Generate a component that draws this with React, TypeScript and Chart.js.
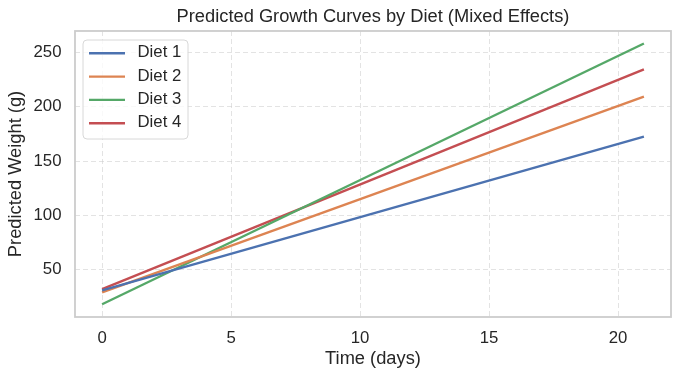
import React, { useEffect, useRef } from "react";
import { Chart, registerables } from "chart.js";

Chart.register(...registerables);

const dietLabels = ["Diet 1", "Diet 2", "Diet 3", "Diet 4"];
const timePoints = [0, 21];
const diet1 = [30.5, 172.5];
const diet2 = [28.7, 209.5];
const diet3 = [17.8, 258.5];
const diet4 = [31.8, 234.5];
const xTicks = [0, 5, 10, 15, 20];
const yTicks = [50, 100, 150, 200, 250];

const colors = ["#4C72B0", "#DD8452", "#55A868", "#C44E52"];
const FONT = "'Liberation Sans', Arial, sans-serif";
const TEXT = "#262626";
const SMALL = 16.8;
const BIG = 18.3;

const overlayPlugin = {
  id: "overlay",
  afterDraw(chart: any) {
    const { ctx, chartArea } = chart;
    const { left, right, top, bottom } = chartArea;
    ctx.save();
    // frame
    ctx.strokeStyle = "#cccccc";
    ctx.lineWidth = 1.8;
    ctx.strokeRect(left, top, right - left, bottom - top);
    // title
    ctx.fillStyle = TEXT;
    ctx.font = `${BIG}px ${FONT}`;
    ctx.textAlign = "center";
    ctx.textBaseline = "alphabetic";
    ctx.fillText("Predicted Growth Curves by Diet (Mixed Effects)", (left + right) / 2, 22);
    // legend
    const bx = left + 8;
    const by = top + 9;
    const bw = 105;
    const bh = 99;
    ctx.beginPath();
    ctx.roundRect(bx, by, bw, bh, 4);
    ctx.fillStyle = "rgba(255,255,255,0.8)";
    ctx.fill();
    ctx.strokeStyle = "#d8d8d8";
    ctx.lineWidth = 1;
    ctx.stroke();
    ctx.font = `${SMALL}px ${FONT}`;
    ctx.textAlign = "left";
    ctx.textBaseline = "middle";
    chart.data.datasets.forEach((ds: any, i: number) => {
      const y = by + 13.3 + i * 23.3;
      ctx.strokeStyle = ds.borderColor;
      ctx.lineWidth = 2.4;
      ctx.beginPath();
      ctx.moveTo(bx + 6, y);
      ctx.lineTo(bx + 42, y);
      ctx.stroke();
      ctx.fillStyle = TEXT;
      ctx.fillText(ds.label, bx + 54.5, y - 0.5);
    });
    ctx.restore();
  },
};

export default function App() {
  const ref = useRef<HTMLCanvasElement>(null);
  useEffect(() => {
    document.body.style.margin = "0";
    const series = [diet1, diet2, diet3, diet4];
    const chart = new Chart(ref.current!, {
      type: "line",
      data: {
        datasets: series.map((vals, i) => ({
          label: dietLabels[i],
          data: timePoints.map((t, j) => ({ x: t, y: vals[j] })),
          borderColor: colors[i],
          backgroundColor: colors[i],
          borderWidth: 2.4,
          pointRadius: 0,
          tension: 0,
        })),
      },
      options: {
        animation: false,
        responsive: false,
        devicePixelRatio: 1,
        layout: { padding: { top: 31, right: 9, left: 0, bottom: 0 } },
        plugins: { legend: { display: false }, title: { display: false }, tooltip: { enabled: false } },
        scales: {
          x: {
            type: "linear",
            min: -1.05,
            max: 22.05,
            afterBuildTicks: (s: any) => { s.ticks = xTicks.map((v) => ({ value: v })); },
            afterFit: (s: any) => { s.height = 63; },
            ticks: { color: TEXT, font: { family: FONT, size: SMALL }, padding: 11, maxRotation: 0 },
            grid: { color: "rgba(204,204,204,0.55)", drawTicks: false, lineWidth: 1 },
            border: { display: false, dash: [5, 3] },
            title: { display: true, text: "Time (days)", color: TEXT, font: { family: FONT, size: BIG }, padding: { bottom: 9.6, top: 0 } },
          },
          y: {
            type: "linear",
            min: 6,
            max: 270,
            afterBuildTicks: (s: any) => { s.ticks = yTicks.map((v) => ({ value: v })); },
            afterFit: (s: any) => { s.width = 75; },
            ticks: { color: TEXT, font: { family: FONT, size: SMALL }, padding: 13.5 },
            grid: { color: "rgba(204,204,204,0.55)", drawTicks: false, lineWidth: 1 },
            border: { display: false, dash: [5, 3] },
            title: { display: true, text: "Predicted Weight (g)", color: TEXT, font: { family: FONT, size: BIG }, padding: { top: 5.4, bottom: 0 } },
          },
        },
      },
      plugins: [overlayPlugin],
    });
    return () => chart.destroy();
  }, []);
  return (
    <div style={{ width: 680, height: 380 }}>
      <canvas ref={ref} width={680} height={380} style={{ display: "block" }} />
    </div>
  );
}
